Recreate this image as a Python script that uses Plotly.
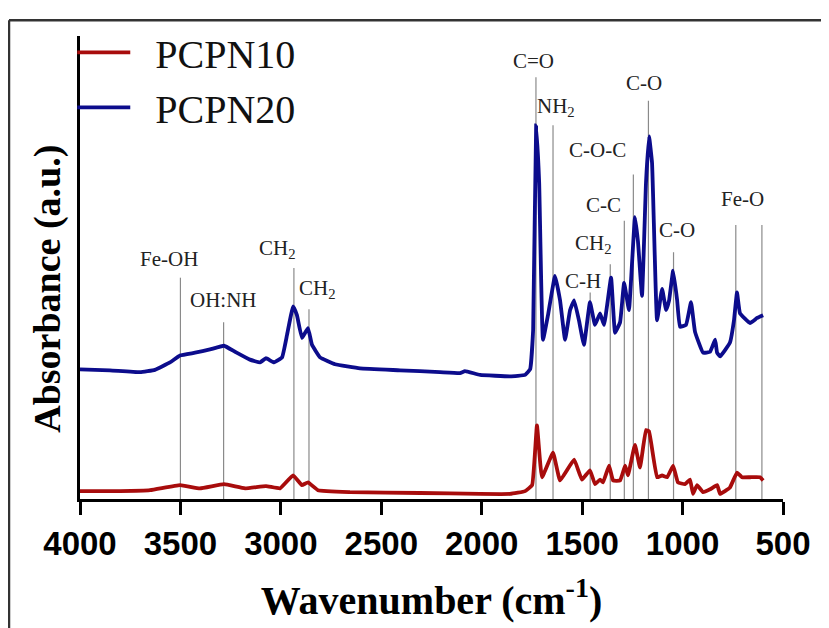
import plotly.graph_objects as go

# ---------------- data ----------------
wn_pcpn20 = [4000, 3851, 3701, 3627, 3552, 3502, 3427, 3353, 3283, 3228, 3154, 3104, 3074, 3034,
             2994, 2969, 2939, 2920, 2895, 2865, 2845, 2805, 2730, 2606, 2407, 2208, 2108, 2083,
             2008, 1859, 1784, 1759, 1744, 1729, 1714, 1695, 1670, 1635, 1610, 1585, 1560, 1540,
             1516, 1491, 1461, 1436, 1411, 1391, 1356, 1336, 1311, 1291, 1267, 1237, 1222, 1202,
             1182, 1167, 1152, 1127, 1102, 1082, 1067, 1047, 1027, 1013, 983, 958, 938, 898, 863,
             838, 828, 813, 764, 744, 729, 714, 664, 629, 599]
abs_pcpn20 = [0.280, 0.278, 0.274, 0.279, 0.295, 0.310, 0.316, 0.323, 0.331, 0.318, 0.301, 0.295,
              0.304, 0.295, 0.306, 0.355, 0.416, 0.397, 0.348, 0.369, 0.333, 0.306, 0.291, 0.282,
              0.278, 0.274, 0.272, 0.276, 0.268, 0.265, 0.268, 0.280, 0.365, 0.807, 0.684, 0.344,
              0.397, 0.482, 0.429, 0.344, 0.408, 0.429, 0.386, 0.333, 0.425, 0.376, 0.401, 0.376,
              0.478, 0.359, 0.382, 0.467, 0.408, 0.609, 0.556, 0.439, 0.684, 0.783, 0.726, 0.386,
              0.454, 0.408, 0.429, 0.493, 0.429, 0.372, 0.376, 0.425, 0.361, 0.316, 0.318, 0.344,
              0.316, 0.308, 0.338, 0.386, 0.446, 0.401, 0.380, 0.391, 0.397]

wn_pcpn10 = [4000, 3801, 3651, 3502, 3403, 3283, 3178, 3074, 3004, 2939, 2895, 2865, 2815, 2656,
             2307, 2008, 1859, 1784, 1749, 1725, 1700, 1645, 1610, 1540, 1501, 1461, 1436, 1411,
             1396, 1366, 1346, 1311, 1286, 1272, 1237, 1212, 1182, 1167, 1127, 1102, 1077, 1047,
             1023, 988, 963, 948, 928, 898, 863, 828, 813, 764, 729, 704, 664, 614, 599]
abs_pcpn10 = [0.017, 0.017, 0.019, 0.030, 0.023, 0.032, 0.023, 0.028, 0.023, 0.051, 0.030, 0.036,
              0.019, 0.015, 0.013, 0.011, 0.011, 0.017, 0.030, 0.159, 0.047, 0.100, 0.040, 0.085,
              0.042, 0.062, 0.032, 0.042, 0.036, 0.072, 0.040, 0.040, 0.072, 0.051, 0.117, 0.068,
              0.149, 0.146, 0.047, 0.051, 0.047, 0.072, 0.036, 0.032, 0.042, 0.011, 0.030, 0.015,
              0.021, 0.030, 0.011, 0.025, 0.057, 0.047, 0.047, 0.047, 0.040]

# band marker lines (wavenumber, top of line)
band_wn = [3500, 3285, 2935, 2860, 1730, 1645, 1460, 1360, 1290, 1245, 1170, 1045, 735, 605]
band_top = [0.478, 0.382, 0.499, 0.410, 0.911, 0.807, 0.446, 0.507, 0.601, 0.701, 0.860, 0.533,
            0.592, 0.592]

# band labels
label_text = ["Fe-OH", "OH:NH", "CH<sub>2</sub>", "CH<sub>2</sub>", "C=O", "NH<sub>2</sub>", "C-H",
              "CH<sub>2</sub>", "C-C", "C-O-C", "C-O", "C-O", "Fe-O"]
label_wn = [3557, 3288, 3019, 2820, 1740, 1630, 1496, 1441, 1396, 1426, 1192, 1028, 704]
label_abs = [0.518, 0.429, 0.539, 0.454, 0.945, 0.847, 0.471, 0.550, 0.635, 0.754, 0.898, 0.582,
             0.648]

x_ticks = [4000, 3500, 3000, 2500, 2000, 1500, 1000, 500]

# ---------------- figure ----------------
fig = go.Figure()
fig.add_trace(go.Scatter(x=wn_pcpn10, y=abs_pcpn10, mode="lines",
                         name="&nbsp;&nbsp;PCPN10",
                         line=dict(color="#a80c0c", width=3.8, shape="spline", smoothing=0.3)))
fig.add_trace(go.Scatter(x=wn_pcpn20, y=abs_pcpn20, mode="lines",
                         name="&nbsp;&nbsp;PCPN20",
                         line=dict(color="#0c0c8c", width=3.8, shape="spline", smoothing=0.3)))

for w, t in zip(band_wn, band_top):
    fig.add_shape(type="line", xref="x", yref="y", x0=w, x1=w, y0=0, y1=t,
                  line=dict(color="#8a8a8a", width=1.2), layer="below")

for txt, w, a in zip(label_text, label_wn, label_abs):
    fig.add_annotation(x=w, y=a, text=txt, showarrow=False, xref="x", yref="y",
                       font=dict(family="Liberation Serif", size=21, color="#222"))

# y-axis title (placed slightly below the axis centre, as in the reference)
fig.add_annotation(x=-0.0455, y=0.454, xref="paper", yref="paper", text="Absorbance (a.u.)",
                   textangle=-90, showarrow=False, xanchor="center", yanchor="middle",
                   font=dict(family="Liberation Serif", size=38, color="black", weight="bold"))

# outer frame (top and left edges)
fig.add_shape(type="line", xref="paper", yref="paper", x0=-0.101, x1=1.07, y0=1.034, y1=1.034,
              line=dict(color="#333", width=2.5))
fig.add_shape(type="line", xref="paper", yref="paper", x0=-0.101, x1=-0.101, y0=1.034, y1=-0.3,
              line=dict(color="#333", width=2.5))

fig.update_layout(
    width=821, height=620,
    margin=dict(l=72, r=46, t=23, b=126),
    paper_bgcolor="white", plot_bgcolor="white",
    showlegend=True,
    legend=dict(x=-0.011, y=1.035, xanchor="left", yanchor="top", bgcolor="rgba(0,0,0,0)",
                font=dict(family="Liberation Serif", size=40, color="#111"),
                tracegroupgap=0, itemwidth=53),
    xaxis=dict(range=[4000, 500], tickvals=x_ticks, ticks="outside", ticklen=13, tickwidth=3,
               tickcolor="black", showline=True, linecolor="black", linewidth=3,
               showgrid=False, zeroline=False, ticklabelstandoff=0,
               tickfont=dict(family="Liberation Sans", size=33, color="black", weight="bold"),
               title=dict(text="Wavenumber (cm<sup>-1</sup>)", standoff=26,
                          font=dict(family="Liberation Serif", size=40, color="black",
                                    weight="bold"))),
    yaxis=dict(range=[0, 1.0], showticklabels=False, ticks="", showline=True, linecolor="black",
               linewidth=3, showgrid=False, zeroline=False),
)

fig.write_html("out.html")
